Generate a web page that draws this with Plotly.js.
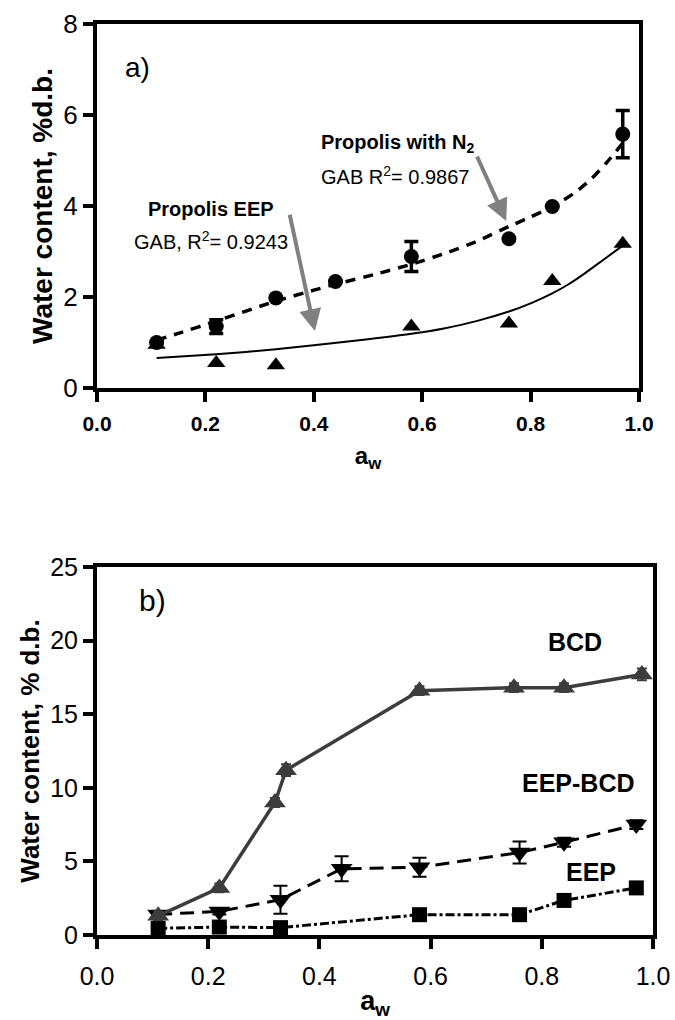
<!DOCTYPE html>
<html>
<head>
<meta charset="utf-8">
<script src="https://cdn.plot.ly/plotly-3.0.1.min.js"></script>
<style>html,body{margin:0;padding:0;background:#fff;}#chart{width:675px;height:1020px;}</style>
</head>
<body>
<div id="chart"></div>
<script>
// ---------- Panel a) ----------
const aw_N2 = [0.11, 0.22, 0.33, 0.44, 0.58, 0.76, 0.84, 0.97];
const wc_N2 = [1.0, 1.35, 1.98, 2.34, 2.89, 3.28, 3.99, 5.58];
const err_N2 = [0, 0.15, 0, 0, 0.33, 0, 0, 0.52];

const aw_EEPa = [0.11, 0.22, 0.33, 0.58, 0.76, 0.84, 0.97];
const wc_EEPa = [0.95, 0.55, 0.5, 1.35, 1.42, 2.35, 3.17];

const fit_N2_x = [0.11, 0.15, 0.22, 0.33, 0.40, 0.44, 0.52, 0.58, 0.64, 0.70, 0.76, 0.80, 0.84, 0.88, 0.91, 0.94, 0.97];
const fit_N2_y = [1.05, 1.20, 1.47, 1.91, 2.15, 2.28, 2.52, 2.72, 2.95, 3.22, 3.55, 3.76, 3.98, 4.28, 4.57, 4.95, 5.38];

const fit_EEP_x = [0.11, 0.22, 0.33, 0.40, 0.50, 0.58, 0.64, 0.70, 0.76, 0.80, 0.84, 0.87, 0.90, 0.93, 0.97];
const fit_EEP_y = [0.66, 0.74, 0.85, 0.94, 1.07, 1.19, 1.31, 1.47, 1.68, 1.86, 2.08, 2.28, 2.52, 2.78, 3.13];

// ---------- Panel b) ----------
const aw_BCD = [0.11, 0.22, 0.32, 0.34, 0.58, 0.75, 0.84, 0.98];
const wc_BCD = [1.3, 3.2, 9.0, 11.2, 16.6, 16.8, 16.8, 17.7];
const err_BCD = [0.3, 0.3, 0.3, 0.4, 0.3, 0.3, 0.3, 0.4];

const aw_EEPBCD = [0.11, 0.22, 0.33, 0.44, 0.58, 0.76, 0.84, 0.97];
const wc_EEPBCD = [1.4, 1.6, 2.4, 4.5, 4.6, 5.6, 6.3, 7.5];
const err_EEPBCD = [0.2, 0.2, 0.95, 0.85, 0.65, 0.75, 0.3, 0.3];

const aw_EEPb = [0.11, 0.22, 0.33, 0.58, 0.76, 0.84, 0.97];
const wc_EEPb = [0.45, 0.54, 0.5, 1.38, 1.38, 2.35, 3.2];

const xTicks = [0, 0.2, 0.4, 0.6, 0.8, 1.0];
const xTickText = ['0.0', '0.2', '0.4', '0.6', '0.8', '1.0'];
const yTicksA = [0, 2, 4, 6, 8];
const yTicksB = [0, 5, 10, 15, 20, 25];

const FONT = 'Arial, "Liberation Sans", sans-serif';

const traces = [
  {x: fit_N2_x, y: fit_N2_y, xaxis: 'x', yaxis: 'y', mode: 'lines',
   line: {color: '#000', width: 3.5, dash: '10px,8px', shape: 'spline', smoothing: 0.6}, hoverinfo: 'skip'},
  {x: fit_EEP_x, y: fit_EEP_y, xaxis: 'x', yaxis: 'y', mode: 'lines',
   line: {color: '#000', width: 2, shape: 'spline', smoothing: 0.6}, hoverinfo: 'skip'},
  {x: aw_EEPa, y: wc_EEPa, xaxis: 'x', yaxis: 'y', mode: 'markers', cliponaxis: false,
   marker: {symbol: 'triangle-up', size: 16, color: '#000'}},
  {x: aw_N2, y: wc_N2, xaxis: 'x', yaxis: 'y', mode: 'markers', cliponaxis: false,
   marker: {symbol: 'circle', size: 15, color: '#000'},
   error_y: {type: 'data', array: err_N2, visible: true, color: '#000', thickness: 3.5, width: 7}},

  {x: aw_EEPb, y: wc_EEPb, xaxis: 'x2', yaxis: 'y2', mode: 'lines+markers', cliponaxis: false,
   line: {color: '#000', width: 3, dash: 'dashdot'},
   marker: {symbol: 'square', size: 15, color: '#000'}},
  {x: aw_EEPBCD, y: wc_EEPBCD, xaxis: 'x2', yaxis: 'y2', mode: 'lines+markers', cliponaxis: false,
   line: {color: '#000', width: 3, dash: '14px,8px'},
   marker: {symbol: 'triangle-down', size: 19, color: '#000'},
   error_y: {type: 'data', array: err_EEPBCD, visible: true, color: '#000', thickness: 2, width: 7}},
  {x: aw_BCD, y: wc_BCD, xaxis: 'x2', yaxis: 'y2', mode: 'lines+markers', cliponaxis: false,
   line: {color: '#3c3c3c', width: 3.5},
   marker: {symbol: 'triangle-up', size: 19, color: '#3c3c3c'},
   error_y: {type: 'data', array: err_BCD, visible: true, color: '#3c3c3c', thickness: 2, width: 5}}
];

const axisCommon = {
  showline: true, linecolor: '#000', linewidth: 4, mirror: true,
  ticks: 'outside', ticklen: 10, tickwidth: 4, tickcolor: '#000',
  showgrid: false, zeroline: false, fixedrange: true
};

const layout = {
  width: 675, height: 1020,
  margin: {l: 0, r: 0, t: 0, b: 0},
  paper_bgcolor: '#fff', plot_bgcolor: '#fff',
  showlegend: false,
  font: {family: FONT, color: '#000'},
  xaxis: Object.assign({}, axisCommon, {
    domain: [97/675, 639/675], anchor: 'y', range: [0, 1],
    tickvals: xTicks, ticktext: xTickText, ticklabelstandoff: 4,
    tickfont: {family: FONT, size: 21, weight: 'bold', color: '#000'},
    title: {text: '<b>a<sub>w</sub></b>', font: {family: FONT, size: 24, color: '#000'}, standoff: 14}
  }),
  yaxis: Object.assign({}, axisCommon, {
    domain: [1 - 388/1020, 1 - 24/1020], anchor: 'x', range: [0, 8],
    tickvals: yTicksA, tickfont: {family: FONT, size: 26, color: '#000'},
    title: {text: '<b>Water content, %d.b.</b>', font: {family: FONT, size: 28, color: '#000'}, standoff: 4}
  }),
  xaxis2: Object.assign({}, axisCommon, {
    domain: [97/675, 653/675], anchor: 'y2', range: [0, 1],
    tickvals: xTicks, ticktext: xTickText, ticklabelstandoff: 6,
    tickfont: {family: FONT, size: 25, color: '#000'},
    title: {text: '<b>a<sub>w</sub></b>', font: {family: FONT, size: 27, color: '#000'}, standoff: 10}
  }),
  yaxis2: Object.assign({}, axisCommon, {
    domain: [1 - 935/1020, 1 - 567/1020], anchor: 'x2', range: [0, 25],
    tickvals: yTicksB, tickfont: {family: FONT, size: 25, color: '#000'},
    title: {text: '<b>Water content, % d.b.</b>', font: {family: FONT, size: 26, color: '#000'}, standoff: 4}
  }),
  annotations: [
    {xref: 'x', yref: 'y', x: 0.074, y: 7.05, text: 'a)', showarrow: false, font: {size: 28}},
    {xref: 'x', yref: 'y', x: 0.555, y: 5.38, text: '<b>Propolis with N<sub>2</sub></b>', showarrow: false, font: {size: 20}},
    {xref: 'x', yref: 'y', x: 0.55, y: 4.68, text: 'GAB R<sup>2</sup>= 0.9867', showarrow: false, font: {size: 20}},
    {xref: 'x', yref: 'y', x: 0.21, y: 3.94, text: '<b>Propolis EEP</b>', showarrow: false, font: {size: 20}},
    {xref: 'x', yref: 'y', x: 0.21, y: 3.24, text: 'GAB, R<sup>2</sup>= 0.9243', showarrow: false, font: {size: 20}},
    {xref: 'x', yref: 'y', x: 0.402, y: 1.25, axref: 'x', ayref: 'y', ax: 0.355, ay: 3.84,
     text: '', showarrow: true, arrowhead: 2, arrowsize: 1.1, arrowwidth: 4, arrowcolor: '#808080'},
    {xref: 'x', yref: 'y', x: 0.755, y: 3.67, axref: 'x', ayref: 'y', ax: 0.70, ay: 5.12,
     text: '', showarrow: true, arrowhead: 2, arrowsize: 1.1, arrowwidth: 4, arrowcolor: '#808080'},

    {xref: 'x2', yref: 'y2', x: 0.099, y: 22.7, text: 'b)', showarrow: false, font: {size: 30}},
    {xref: 'x2', yref: 'y2', x: 0.859, y: 19.9, text: '<b>BCD</b>', showarrow: false, font: {size: 25}},
    {xref: 'x2', yref: 'y2', x: 0.866, y: 10.3, text: '<b>EEP-BCD</b>', showarrow: false, font: {size: 25}},
    {xref: 'x2', yref: 'y2', x: 0.888, y: 4.27, text: '<b>EEP</b>', showarrow: false, font: {size: 25}}
  ]
};

Plotly.newPlot('chart', traces, layout, {displayModeBar: false, staticPlot: true});
</script>
</body>
</html>
